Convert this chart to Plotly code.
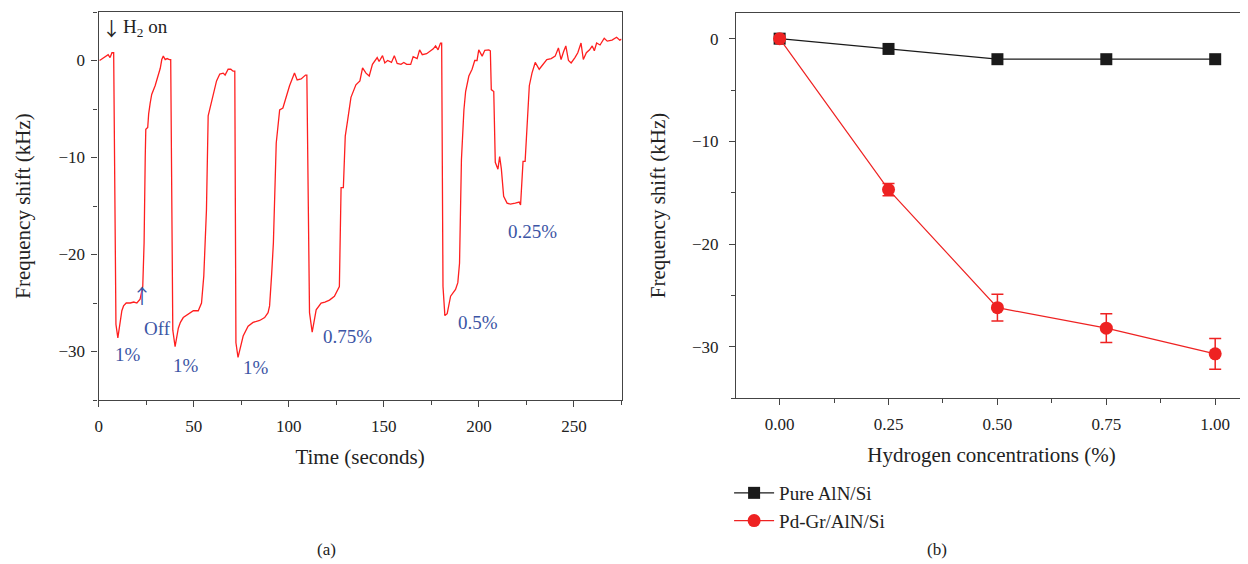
import plotly.graph_objects as go

# (a) frequency shift vs time
time_s = [0.5, 2.0, 3.5, 5.0, 6.0, 7.0, 7.9, 9.1, 10.1, 11.3, 12.2, 13.1, 14.5, 16.6, 18.5, 20.1,
          21.8, 23.2, 23.9, 24.5, 24.8, 25.8, 26.3, 27.1, 27.9, 29.7, 31.4, 32.4, 33.2, 34.0,
          35.0, 36.0, 37.2, 37.9, 39.0, 40.2, 41.9, 43.0, 44.5, 47.1, 49.8, 52.4, 54.1, 55.3,
          56.7, 57.6, 59.4, 62.0, 63.7, 65.5, 66.5, 68.1, 69.5, 70.7, 71.6, 72.2, 73.3, 76.0,
          78.6, 81.2, 84.7, 87.3, 89.1, 89.9, 91.0, 91.9, 93.4, 95.2, 96.9, 98.6, 100.4, 103.0,
          104.4, 106.5, 108.8, 109.5, 110.9, 112.3, 114.4, 117.0, 119.0, 121.4, 124.0, 126.6,
          127.5, 128.7, 129.7, 131.0, 132.7, 135.3, 137.4, 138.8, 140.6, 142.3, 144.0, 146.5,
          147.5, 149.3, 150.5, 152.0, 154.0, 155.5, 157.0, 159.0, 160.5, 162.0, 164.1, 165.4,
          167.5, 168.8, 170.2, 172.5, 174.6, 176.0, 177.2, 178.5, 179.8, 180.4, 181.1, 182.1,
          183.3, 185.1, 187.7, 188.9, 189.8, 190.8, 192.1, 193.0, 194.7, 196.4, 197.8, 199.0,
          199.9, 201.7, 203.1, 205.2, 206.0, 206.5, 207.8, 208.6, 210.0, 210.9, 211.8, 213.0,
          214.8, 216.5, 219.1, 221.2, 221.9, 223.2, 224.3, 225.2, 226.5, 227.9, 229.6, 231.7,
          233.5, 235.7, 238.0, 240.1, 241.8, 243.2, 244.5, 245.7, 247.1, 248.5, 250.5, 252.0,
          253.7, 254.9, 256.5, 258.2, 259.6, 260.7, 261.9, 263.7, 265.9, 267.5, 270.0, 272.4,
          274.1, 275.0]
shift_khz = [0.0, 0.2, 0.4, 0.6, 0.3, 0.8, 0.8, -27.2, -28.6, -26.7, -25.8, -25.3, -25.0, -25.0,
             -24.9, -25.0, -24.6, -23.3, -18.8, -10.0, -7.1, -6.9, -5.5, -4.4, -3.5, -2.6, -1.6,
             -0.8, 0.1, 0.45, 0.1, 0.2, 0.1, 0.1, -27.8, -29.5, -27.6, -27.0, -26.5, -26.2,
             -25.8, -25.8, -25.0, -22.2, -15.4, -5.7, -4.3, -2.1, -1.4, -1.3, -1.5, -0.9, -0.9,
             -1.1, -1.1, -29.1, -30.6, -28.4, -27.4, -27.0, -26.8, -26.5, -26.0, -25.3, -22.0,
             -18.8, -8.5, -5.1, -4.9, -3.7, -2.6, -1.3, -2.0, -1.9, -1.5, -1.5, -26.0, -28.0,
             -25.7, -25.0, -24.9, -24.7, -24.3, -23.3, -13.1, -13.1, -7.8, -6.1, -3.8, -2.5,
             -2.1, -0.75, -1.3, -1.6, -0.4, 0.3, -0.1, 0.5, -0.25, 0.0, -0.2, 0.5, -0.3, -0.4,
             -0.2, -0.4, -0.4, 0.4, 0.2, 1.1, 0.6, 0.7, 1.0, 1.2, 1.5, 1.1, 1.8, 1.8, -23.3,
             -26.3, -26.1, -24.3, -23.6, -22.9, -20.9, -10.2, -5.1, -3.2, -1.6, -0.9, 0.0, 0.0,
             1.1, 0.45, 1.05, 1.1, 1.0, -3.0, -3.2, -10.5, -11.2, -9.9, -11.2, -14.0, -14.7,
             -14.8, -14.7, -14.6, -14.9, -10.4, -10.4, -6.8, -2.6, -1.3, -0.2, -0.9, -0.5, 0.1,
             0.2, 0.45, 1.3, 0.1, 0.9, 1.5, 0.0, -0.25, 0.3, 0.8, 1.8, 0.1, 0.8, 1.1, 1.5, 1.0,
             1.8, 1.6, 2.3, 2.0, 2.1, 2.4, 2.1, 2.2]

# (b) frequency shift vs hydrogen concentration
conc = [0.0, 0.25, 0.5, 0.75, 1.0]
pure_aln = [0.0, -1.0, -2.0, -2.0, -2.0]
pd_gr = [0.0, -14.7, -26.2, -28.2, -30.7]
pd_gr_err = [0.0, 0.6, 1.3, 1.4, 1.5]

# labels on panel (a): text, time, shift
dose_labels = ["1%", "1%", "1%", "0.75%", "0.5%", "0.25%"]
dose_t = [15.5, 46.0, 83.0, 130.7, 199.5, 228.3]
dose_y = [-30.3, -31.4, -31.6, -28.5, -27.0, -17.6]

# the page body has an 8px margin, so the figure is sized to the rest of the window
W, H, OFF = 1240, 556, 8


def px(x):
    return (x - OFF) / W


def py(y):
    return 1 - (y - OFF) / H


serif = "Liberation Serif"
arrow_font = "Noto Sans CJK JP"
blue = "#3c55a5"
red = "#ee2222"
ink = "#222"

fig = go.Figure()
fig.add_trace(go.Scatter(x=time_s, y=shift_khz, mode="lines", line=dict(color="#ff1f1f", width=1.3),
                         showlegend=False, xaxis="x", yaxis="y"))
fig.add_trace(go.Scatter(x=conc, y=pure_aln, mode="lines+markers", name="Pure AlN/Si",
                         line=dict(color="#1a1a1a", width=1.2),
                         marker=dict(symbol="square", size=12, color="#1a1a1a"),
                         xaxis="x2", yaxis="y2"))
fig.add_trace(go.Scatter(x=conc, y=pd_gr, mode="lines+markers", name="Pd-Gr/AlN/Si",
                         line=dict(color=red, width=1.2),
                         marker=dict(symbol="circle", size=13, color=red),
                         error_y=dict(type="data", array=pd_gr_err, color=red, thickness=1.5, width=6),
                         xaxis="x2", yaxis="y2"))

axis_style = dict(showline=True, linecolor="#444", linewidth=1.3, mirror=True, ticks="outside",
                  ticklen=6, tickcolor="#444", showgrid=False, zeroline=False,
                  tickfont=dict(family=serif, size=17, color=ink))


def minor(step):
    return dict(ticks="outside", ticklen=4, tickcolor="#444", dtick=step)


annotations = [dict(x=t, y=v, text=s, xref="x", yref="y", showarrow=False,
                    font=dict(family=serif, size=19, color=blue))
               for s, t, v in zip(dose_labels, dose_t, dose_y)]
annotations += [
    dict(x=6.8, y=3.4, xref="x", yref="y", showarrow=False, text="\u2193",
         font=dict(family=arrow_font, size=19, color=ink)),
    dict(x=11.5, y=3.3, xref="x", yref="y", xanchor="left", showarrow=False,
         text="H<sub>2</sub> on", font=dict(family=serif, size=19, color=ink)),
    dict(x=22.8, y=-24.2, xref="x", yref="y", showarrow=False, text="\u2191",
         font=dict(family=arrow_font, size=20, color=blue)),
    dict(x=31.0, y=-27.6, xref="x", yref="y", showarrow=False, text="Off",
         font=dict(family=serif, size=19, color=blue)),
    dict(x=px(312), y=py(561), xref="paper", yref="paper", showarrow=False, text="(a)",
         font=dict(family=serif, size=17, color=ink)),
    dict(x=px(949), y=py(561), xref="paper", yref="paper", showarrow=False, text="(b)",
         font=dict(family=serif, size=17, color=ink)),
]

title_font = dict(family=serif, size=21, color=ink)
fig.update_layout(
    width=W, height=H, margin=dict(l=0, r=0, t=0, b=0),
    paper_bgcolor="white", plot_bgcolor="white",
    xaxis=dict(axis_style, domain=[px(95), px(620)], range=[0, 275], dtick=50, minor=minor(25),
               ticklabelstandoff=4,
               title=dict(text="Time (seconds)", font=title_font, standoff=14)),
    yaxis=dict(axis_style, domain=[py(400), py(12)], range=[-35, 5], dtick=10, minor=minor(5),
               ticklabelstandoff=3,
               title=dict(text="Frequency shift (kHz)", font=title_font, standoff=22)),
    xaxis2=dict(axis_style, domain=[px(735), 1.0], range=[-0.1, 1.073], dtick=0.25,
                tickformat=".2f", anchor="y2", minor=minor(0.125), ticklabelstandoff=4,
                title=dict(text="Hydrogen concentrations (%)", font=title_font, standoff=14)),
    yaxis2=dict(axis_style, domain=[py(398), py(13)], range=[-35, 2.5], dtick=10,
                anchor="x2", minor=minor(5), ticklabelstandoff=7,
                title=dict(text="Frequency shift (kHz)", font=title_font, standoff=20)),
    legend=dict(x=px(728), y=py(474), xanchor="left", yanchor="top",
                font=dict(family=serif, size=19, color=ink), bgcolor="rgba(0,0,0,0)",
                itemwidth=40, tracegroupgap=0),
    annotations=annotations,
)

fig.write_html("out.html")
